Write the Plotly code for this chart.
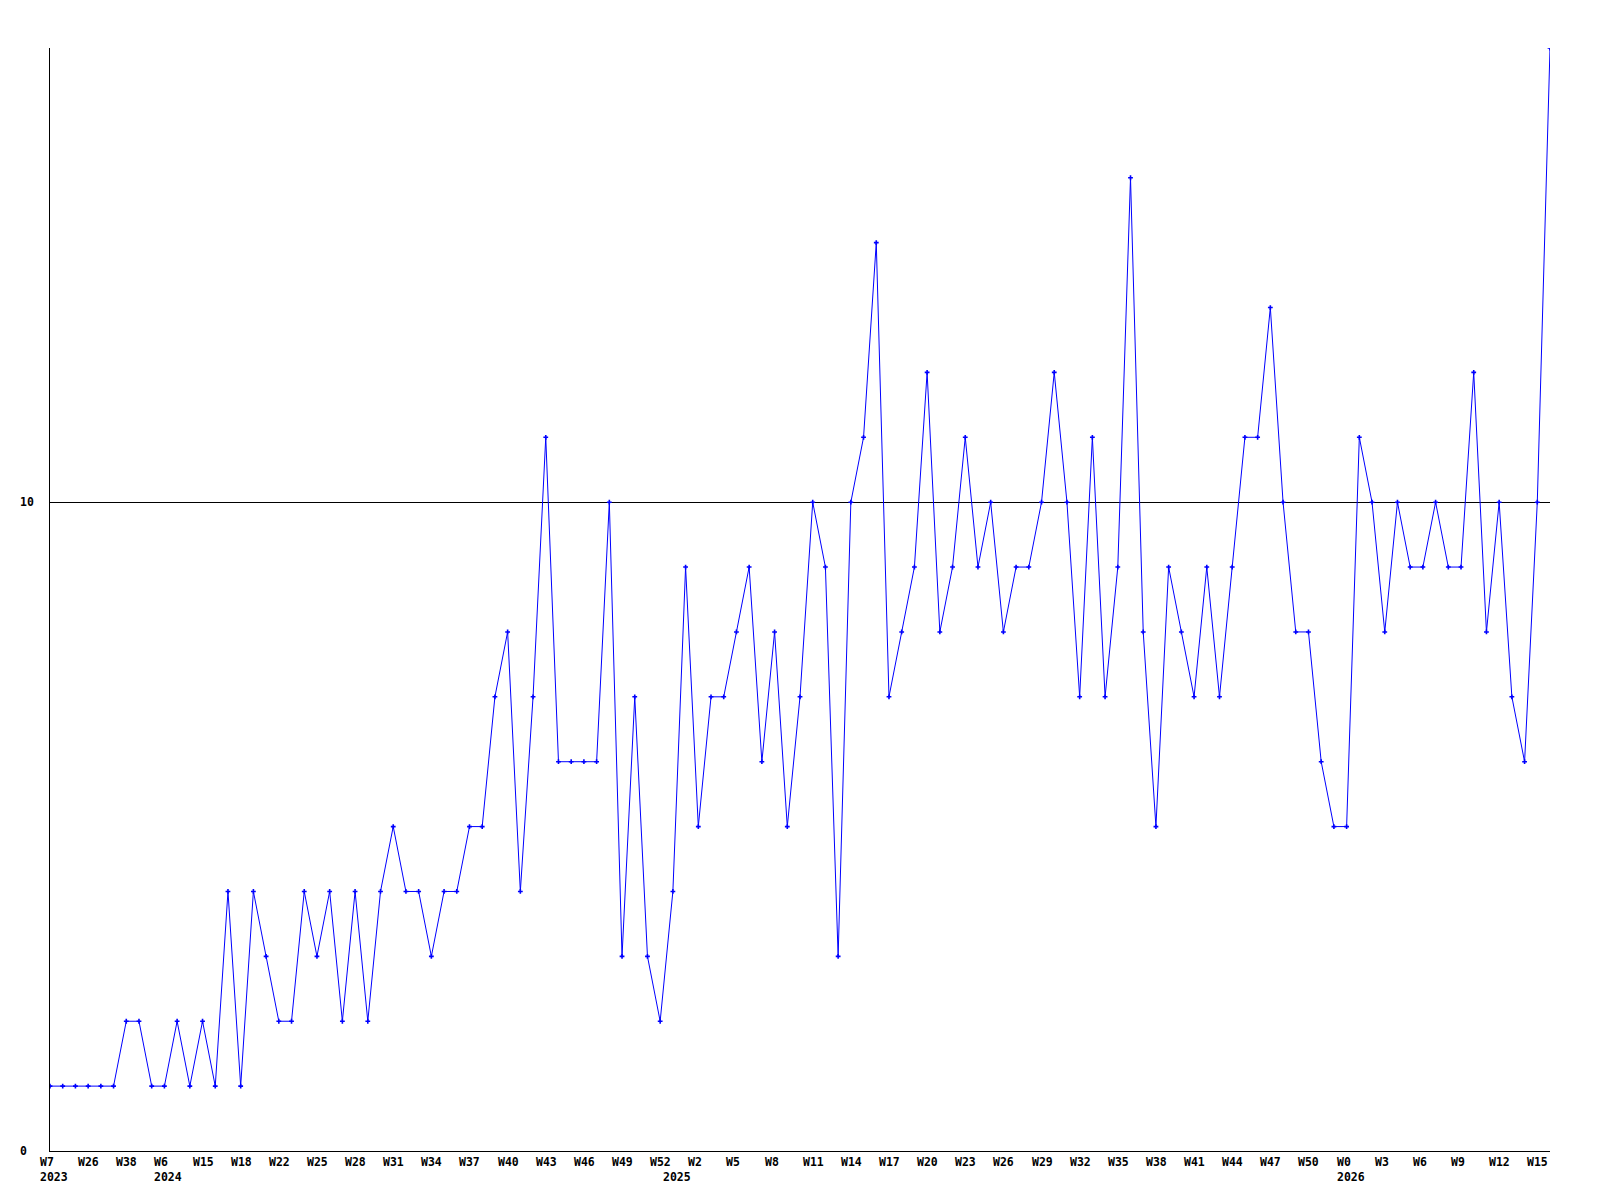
import plotly.graph_objects as go

# ---- data -------------------------------------------------------------
values = [
    1, 1, 1, 1, 1, 1, 2, 2, 1, 1,
    2, 1, 2, 1, 4, 1, 4, 3, 2, 2,
    4, 3, 4, 2, 4, 2, 4, 5, 4, 4,
    3, 4, 4, 5, 5, 7, 8, 4, 7, 11,
    6, 6, 6, 6, 10, 3, 7, 3, 2, 4,
    9, 5, 7, 7, 8, 9, 6, 8, 5, 7,
    10, 9, 3, 10, 11, 14, 7, 8, 9, 12,
    8, 9, 11, 9, 10, 8, 9, 9, 10, 12,
    10, 7, 11, 7, 9, 15, 8, 5, 9, 8,
    7, 9, 7, 9, 11, 11, 13, 10, 8, 8,
    6, 5, 5, 11, 10, 8, 10, 9, 9, 10,
    9, 9, 12, 8, 10, 7, 6, 10, 17,
]

week_ticks = [
    "W7", "W26", "W38", "W6", "W15", "W18", "W22", "W25", "W28", "W31",
    "W34", "W37", "W40", "W43", "W46", "W49", "W52", "W2", "W5", "W8",
    "W11", "W14", "W17", "W20", "W23", "W26", "W29", "W32", "W35", "W38",
    "W41", "W44", "W47", "W50", "W0", "W3", "W6", "W9", "W12", "W15",
]
tick_step = 3

year_labels = ["2023", "2024", "2025", "2026"]
year_index = [0, 9, 49, 102]

y_tick_vals = [0, 10]
y_tick_text = ["0", "10"]
y_max = 17

# ---- figure -----------------------------------------------------------
x = list(range(len(values)))
FONT = dict(family="DejaVu Sans Mono", size=11.5, color="black")

fig = go.Figure()
fig.add_trace(go.Scatter(
    x=x, y=values, mode="lines+markers",
    line=dict(color="#0000ff", width=1),
    marker=dict(symbol="cross", size=4, color="#0000ff"),
    hoverinfo="skip",
))

annotations = []
for i, lab in enumerate(week_ticks):
    annotations.append(dict(
        x=i * tick_step, y=0, xref="x", yref="paper",
        text="<b>%s</b>" % lab, showarrow=False,
        xanchor="left", yanchor="middle", xshift=-12, yshift=-11,
        font=FONT,
    ))
for lab, idx in zip(year_labels, year_index):
    annotations.append(dict(
        x=idx, y=0, xref="x", yref="paper",
        text="<b>%s</b>" % lab, showarrow=False,
        xanchor="left", yanchor="middle", xshift=-12, yshift=-26,
        font=FONT,
    ))
for v, t in zip(y_tick_vals, y_tick_text):
    annotations.append(dict(
        x=0, y=v, xref="paper", yref="y",
        text="<b>%s</b>" % t, showarrow=False,
        xanchor="left", yanchor="middle", xshift=-32,
        font=FONT,
    ))

fig.update_layout(
    width=1584, height=1184,
    margin=dict(l=42, r=42, t=40, b=41, pad=0),
    paper_bgcolor="white", plot_bgcolor="white",
    showlegend=False,
    annotations=annotations,
    xaxis=dict(
        range=[0, len(values) - 1],
        showgrid=False, zeroline=False,
        showline=True, linecolor="black", linewidth=1,
        showticklabels=False, ticks="",
    ),
    yaxis=dict(
        range=[0, y_max],
        tickvals=y_tick_vals,
        showgrid=True, gridcolor="black", gridwidth=1,
        zeroline=False,
        showline=True, linecolor="black", linewidth=1,
        showticklabels=False, ticks="",
    ),
)

fig.write_html("out.html")
